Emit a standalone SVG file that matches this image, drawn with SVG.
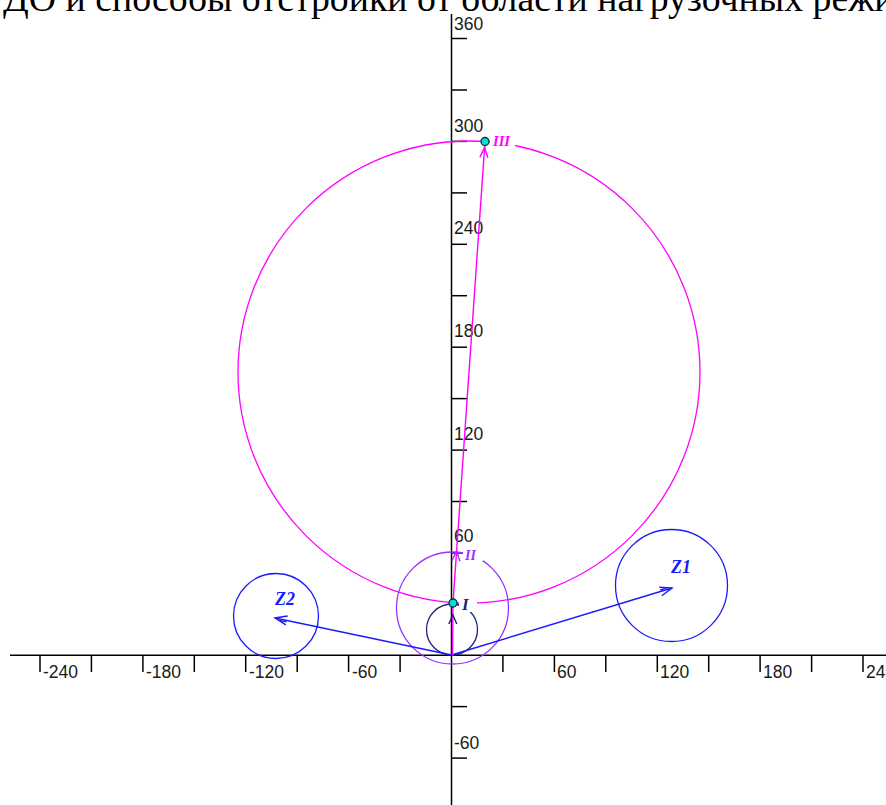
<svg xmlns="http://www.w3.org/2000/svg" width="886" height="805" viewBox="0 0 886 805">
<style>
.axis{stroke:#000;stroke-width:1.5;fill:none}
.tick{stroke:#000;stroke-width:1.5}
.lbl{font-family:"Liberation Sans",Arial,sans-serif;font-size:17.5px;fill:#1a1a1a}
.circ{fill:none;stroke-width:1.3}
.vlbl{font-family:"Liberation Serif","Times New Roman",serif;font-style:italic;font-weight:bold}
.pt{fill:#00e0e0;stroke:#003838;stroke-width:1.3}
</style>
<defs>
<marker id="mBlue" markerUnits="userSpaceOnUse" viewBox="-14 -7 16 14" markerWidth="16" markerHeight="14" refX="0" refY="0" orient="auto">
<path d="M-12,-4.5 L0,0 L-12,4.5 M-12,-1.5 L-3,-1.5" fill="none" stroke="#1a1aff" stroke-width="1.4"/>
</marker>
<marker id="mNavy" markerUnits="userSpaceOnUse" viewBox="-24 -7 26 14" markerWidth="26" markerHeight="14" refX="0" refY="0" orient="auto">
<path d="M-21,-4 L-12,0 L-21,4" fill="none" stroke="#202080" stroke-width="1.4"/>
</marker>
<marker id="mPurple" markerUnits="userSpaceOnUse" viewBox="-14 -7 16 14" markerWidth="16" markerHeight="14" refX="0" refY="0" orient="auto">
<path d="M-10,-4 L0,0 L-10,4" fill="none" stroke="#9933ff" stroke-width="1.4"/>
</marker>
<marker id="mMag" markerUnits="userSpaceOnUse" viewBox="-18 -7 20 14" markerWidth="20" markerHeight="14" refX="0" refY="0" orient="auto">
<path d="M-16,-4 L-6,0 L-16,4" fill="none" stroke="#ff00ff" stroke-width="1.4"/>
</marker>
</defs>
<rect width="886" height="805" fill="#fff"/>
<text x="3" y="11" font-family="Liberation Serif,'Times New Roman',serif" font-size="37.8" fill="#000">ДО и способы отстройки от области нагрузочных режи</text>
<g id="axes">
<line class="axis" x1="10" y1="655.3" x2="886" y2="655.3"/>
<line class="axis" x1="451.5" y1="14" x2="451.5" y2="805"/>
<g id="xticks">
<line class="tick" x1="40" y1="655" x2="40" y2="672"/>
<line class="tick" x1="91.4" y1="655" x2="91.4" y2="672"/>
<line class="tick" x1="142.9" y1="655" x2="142.9" y2="672"/>
<line class="tick" x1="194.3" y1="655" x2="194.3" y2="672"/>
<line class="tick" x1="245.7" y1="655" x2="245.7" y2="672"/>
<line class="tick" x1="297.2" y1="655" x2="297.2" y2="672"/>
<line class="tick" x1="348.6" y1="655" x2="348.6" y2="672"/>
<line class="tick" x1="400.1" y1="655" x2="400.1" y2="672"/>
<line class="tick" x1="502.9" y1="655" x2="502.9" y2="672"/>
<line class="tick" x1="554.4" y1="655" x2="554.4" y2="672"/>
<line class="tick" x1="605.8" y1="655" x2="605.8" y2="672"/>
<line class="tick" x1="657.3" y1="655" x2="657.3" y2="672"/>
<line class="tick" x1="708.7" y1="655" x2="708.7" y2="672"/>
<line class="tick" x1="760.1" y1="655" x2="760.1" y2="672"/>
<line class="tick" x1="811.6" y1="655" x2="811.6" y2="672"/>
<line class="tick" x1="863" y1="655" x2="863" y2="672"/>
</g>
<g id="yticks">
<line class="tick" x1="451.5" y1="38.5" x2="467" y2="38.5"/>
<line class="tick" x1="451.5" y1="90" x2="467" y2="90"/>
<line class="tick" x1="451.5" y1="141.4" x2="467" y2="141.4"/>
<line class="tick" x1="451.5" y1="192.9" x2="467" y2="192.9"/>
<line class="tick" x1="451.5" y1="244.3" x2="467" y2="244.3"/>
<line class="tick" x1="451.5" y1="295.7" x2="467" y2="295.7"/>
<line class="tick" x1="451.5" y1="347.2" x2="467" y2="347.2"/>
<line class="tick" x1="451.5" y1="398.6" x2="467" y2="398.6"/>
<line class="tick" x1="451.5" y1="450.1" x2="467" y2="450.1"/>
<line class="tick" x1="451.5" y1="501.5" x2="467" y2="501.5"/>
<line class="tick" x1="451.5" y1="552.9" x2="467" y2="552.9"/>
<line class="tick" x1="451.5" y1="604.4" x2="467" y2="604.4"/>
<line class="tick" x1="451.5" y1="706.6" x2="467" y2="706.6"/>
<line class="tick" x1="451.5" y1="758.1" x2="467" y2="758.1"/>
</g>
<g id="xlabels">
<text class="lbl" x="43" y="678">-240</text>
<text class="lbl" x="146" y="678">-180</text>
<text class="lbl" x="249" y="678">-120</text>
<text class="lbl" x="352" y="678">-60</text>
<text class="lbl" x="557" y="678">60</text>
<text class="lbl" x="660" y="678">120</text>
<text class="lbl" x="763" y="678">180</text>
<text class="lbl" x="866" y="678">240</text>
</g>
<g id="ylabels">
<text class="lbl" x="454" y="29.5">360</text>
<text class="lbl" x="454" y="132">300</text>
<text class="lbl" x="454" y="234">240</text>
<text class="lbl" x="454" y="337">180</text>
<text class="lbl" x="454" y="440">120</text>
<text class="lbl" x="454" y="542">60</text>
<text class="lbl" x="454" y="749">-60</text>
</g>
</g>
<g id="circle-III"><circle class="circ" cx="469" cy="372" r="231" stroke="#ff00ff"/></g>
<g id="circle-II"><circle class="circ" cx="452.5" cy="608" r="56" stroke="#9933ff"/></g>
<g id="circle-I"><circle class="circ" cx="452" cy="629.5" r="25.5" stroke="#202080"/></g>
<g id="circle-Z2"><circle class="circ" cx="276" cy="616" r="42.5" stroke="#1a1aff"/></g>
<g id="circle-Z1"><circle class="circ" cx="671.5" cy="585.5" r="56" stroke="#1a1aff"/></g>
<g id="connectors" fill="none" stroke-width="1.4">
<line x1="451.5" y1="655" x2="275" y2="618" stroke="#1a1aff" marker-end="url(#mBlue)"/>
<line x1="451.5" y1="655" x2="672" y2="588" stroke="#1a1aff" marker-end="url(#mBlue)"/>
<line x1="452.5" y1="655" x2="453" y2="603" stroke="#ff00ff" marker-end="url(#mNavy)"/>
<line x1="453" y1="603" x2="456.6" y2="551" stroke="#ff00ff" marker-end="url(#mPurple)"/>
<line x1="456.6" y1="551" x2="485" y2="141.5" stroke="#ff00ff" marker-end="url(#mMag)"/>
</g>
<g id="label-I"><rect x="459" y="595" width="18" height="17" fill="#fff"/><text class="vlbl" x="462" y="610" font-size="17" fill="#202080">I</text></g>
<g id="label-II"><rect x="463" y="548" width="20" height="13" fill="#fff"/><text class="vlbl" x="465" y="560" font-size="14" fill="#9933ff">II</text></g>
<g id="label-III"><rect x="490" y="133" width="25" height="15" fill="#fff"/><text class="vlbl" x="493" y="146" font-size="14.5" fill="#ff00ff">III</text></g>
<g id="label-Z2"><text class="vlbl" x="275" y="605" font-size="18" fill="#1a1aff">Z2</text></g>
<g id="label-Z1"><text class="vlbl" x="671" y="573" font-size="18" fill="#1a1aff">Z1</text></g>
<g id="point-I"><circle class="pt" cx="453" cy="603" r="4"/></g>
<g id="point-III"><circle class="pt" cx="485" cy="141.5" r="4"/></g>
</svg>
